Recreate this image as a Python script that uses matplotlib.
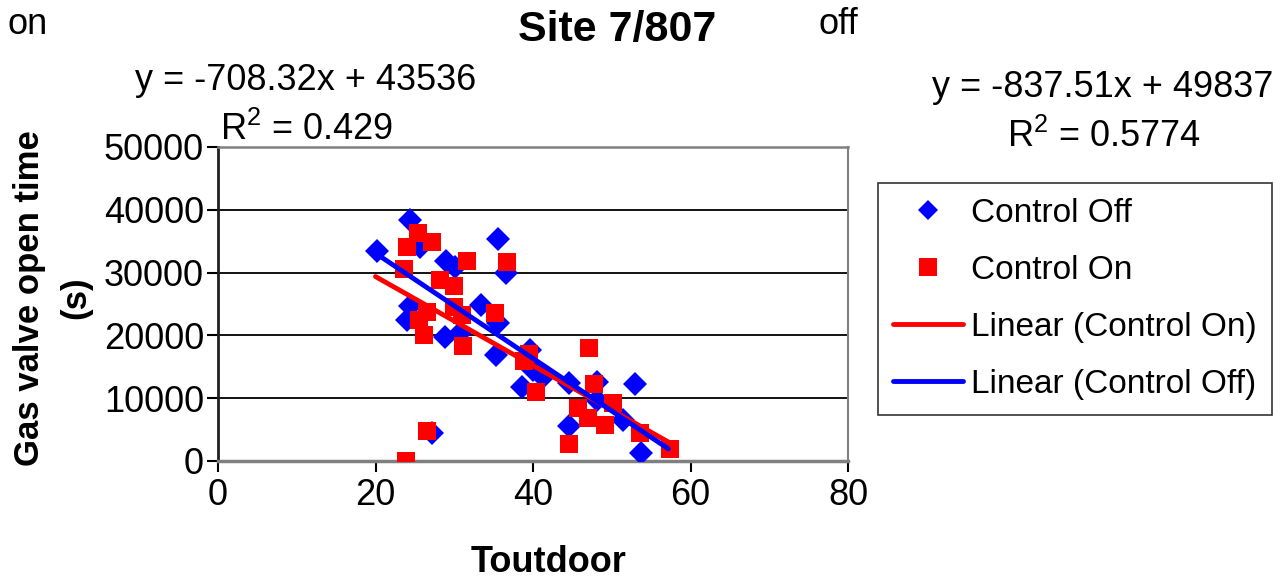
import matplotlib
matplotlib.use("Agg")
import matplotlib.pyplot as plt
from matplotlib.lines import Line2D
import numpy as np

plt.rcParams['font.family'] = ['Liberation Sans', 'DejaVu Sans']

# Control Off (blue diamonds)
off_x = [20.2, 24.4, 25.6, 29.0, 30.1, 35.6, 36.6, 24.4, 24.0, 33.4, 35.6, 28.8,
         30.7, 35.3, 39.6, 40.0, 41.3, 38.6, 44.6, 44.6, 48.1, 52.9, 51.4, 53.7,
         27.2, 48.1]
off_y = [33400, 38400, 34000, 31850, 30900, 35300, 30000, 24700, 22400, 24800, 22000, 19700,
         20400, 16900, 17600, 14500, 13400, 11800, 12400, 5600, 12600, 12250, 6500, 1300,
         4450, 9700]

# Control On (red squares)
on_x = [25.4, 27.2, 24.0, 31.6, 23.6, 28.2, 30.0, 30.0, 31.0, 26.5, 25.5, 26.1,
        36.7, 35.2, 31.1, 26.5, 23.9, 39.5, 38.8, 40.4, 47.1, 47.8, 50.2, 45.7,
        47.0, 49.1, 44.6, 53.6, 57.4]
on_y = [36300, 34900, 34100, 31800, 30600, 28800, 27900, 24500, 23200, 23700, 22400, 20000,
        31700, 23500, 18300, 4800, 0, 17000, 15900, 11000, 18000, 12300, 9200, 8400,
        6900, 5700, 2700, 4500, 1900]

# Trendline equations (from chart labels)
on_slope, on_icpt = -708.32, 43536
off_slope, off_icpt = -837.51, 49837
trend_x = [20.0, 57.2]

x_ticks = [0, 20, 40, 60, 80]
y_ticks = [0, 10000, 20000, 30000, 40000, 50000]

W, H = 1283, 584
fig = plt.figure(figsize=(W / 100, H / 100), dpi=100)
ax = fig.add_axes([218 / W, 1 - 461 / H, 630 / W, 314 / H])

FS = 26

ax.plot(off_x, off_y, linestyle='none', marker='D', ms=12.5, color='#0000ff',
        markeredgewidth=0, zorder=3)
ax.plot(on_x, on_y, linestyle='none', marker='s', ms=13.5, color='#ff0000',
        markeredgewidth=0, zorder=4)
tx = np.array(trend_x)
ax.plot(tx, on_slope * tx + on_icpt, color='#ff0000', lw=3.5, zorder=5,
        solid_capstyle='round')
ax.plot(tx, off_slope * tx + off_icpt, color='#0000ff', lw=3.5, zorder=6,
        solid_capstyle='round')

ax.set_xlim(0, 80)
ax.set_ylim(0, 50000)
ax.set_xticks(x_ticks)
ax.set_yticks(y_ticks)
ax.set_xticklabels([str(v) for v in x_ticks], fontsize=FS)
ax.set_yticklabels([str(v) for v in y_ticks], fontsize=FS)
ax.tick_params(axis='both', direction='out', length=8, width=1.5, colors='black',
               labelcolor='black')
ax.tick_params(axis='x', pad=4)
ax.tick_params(axis='y', pad=2)

for yv in y_ticks[1:-1]:
    ax.axhline(yv, color='black', lw=1.3, zorder=1)
ax.spines['top'].set_color('#808080')
ax.spines['top'].set_linewidth(1.8)
ax.spines['right'].set_color('#808080')
ax.spines['right'].set_linewidth(1.5)
ax.spines['left'].set_color('#202020')
ax.spines['left'].set_linewidth(2)
ax.spines['bottom'].set_color('#808080')
ax.spines['bottom'].set_linewidth(2.5)

# Axis labels
fig.text(549 / W, 1 - 563 / H, 'Toutdoor', fontsize=FS, fontweight='bold',
         ha='center', va='center')
fig.text(30 / W, 1 - 298 / H, 'Gas valve open time', fontsize=25, fontweight='bold',
         ha='center', va='center', rotation=90)
fig.text(76 / W, 1 - 298 / H, '(s)', fontsize=25, fontweight='bold',
         ha='center', va='center', rotation=90)

# Title and annotations
fig.text(617 / W, 1 - 30 / H, 'Site 7/807', fontsize=31, fontweight='bold',
         ha='center', va='center')
fig.text(28 / W, 1 - 25 / H, 'on', fontsize=FS, ha='center', va='center')
fig.text(838 / W, 1 - 25 / H, 'off', fontsize=FS, ha='center', va='center')
fig.text(306 / W, 1 - 80 / H, 'y = -708.32x + 43536', fontsize=FS, ha='center', va='center')
fig.text(307 / W, 1 - 130 / H, r'R$^{\mathregular{2}}$ = 0.429', fontsize=FS,
         ha='center', va='center')
fig.text(1103 / W, 1 - 88 / H, 'y = -837.51x + 49837', fontsize=FS, ha='center', va='center')
fig.text(1104 / W, 1 - 137 / H, r'R$^{\mathregular{2}}$ = 0.5774', fontsize=FS,
         ha='center', va='center')

handles = [
    Line2D([], [], linestyle='none', marker='D', ms=10.5, color='#0000ff', markeredgewidth=0),
    Line2D([], [], linestyle='none', marker='s', ms=13, color='#ff0000', markeredgewidth=0),
    Line2D([], [], color='#ff0000', lw=3.5, solid_capstyle='round'),
    Line2D([], [], color='#0000ff', lw=3.5, solid_capstyle='round'),
]
labels = ['Control Off', 'Control On', 'Linear (Control On)', 'Linear (Control Off)']
leg = fig.legend(handles, labels, loc='upper left',
                 bbox_to_anchor=(878 / W, 1 - 183 / H),
                 bbox_transform=fig.transFigure,
                 fontsize=24, frameon=True, fancybox=False,
                 edgecolor='black', handlelength=2.1, handletextpad=0.25,
                 labelspacing=0.78, borderaxespad=0, borderpad=0.45)
leg.get_frame().set_linewidth(1.2)

fig.savefig('out.png', dpi=100, facecolor='white')
